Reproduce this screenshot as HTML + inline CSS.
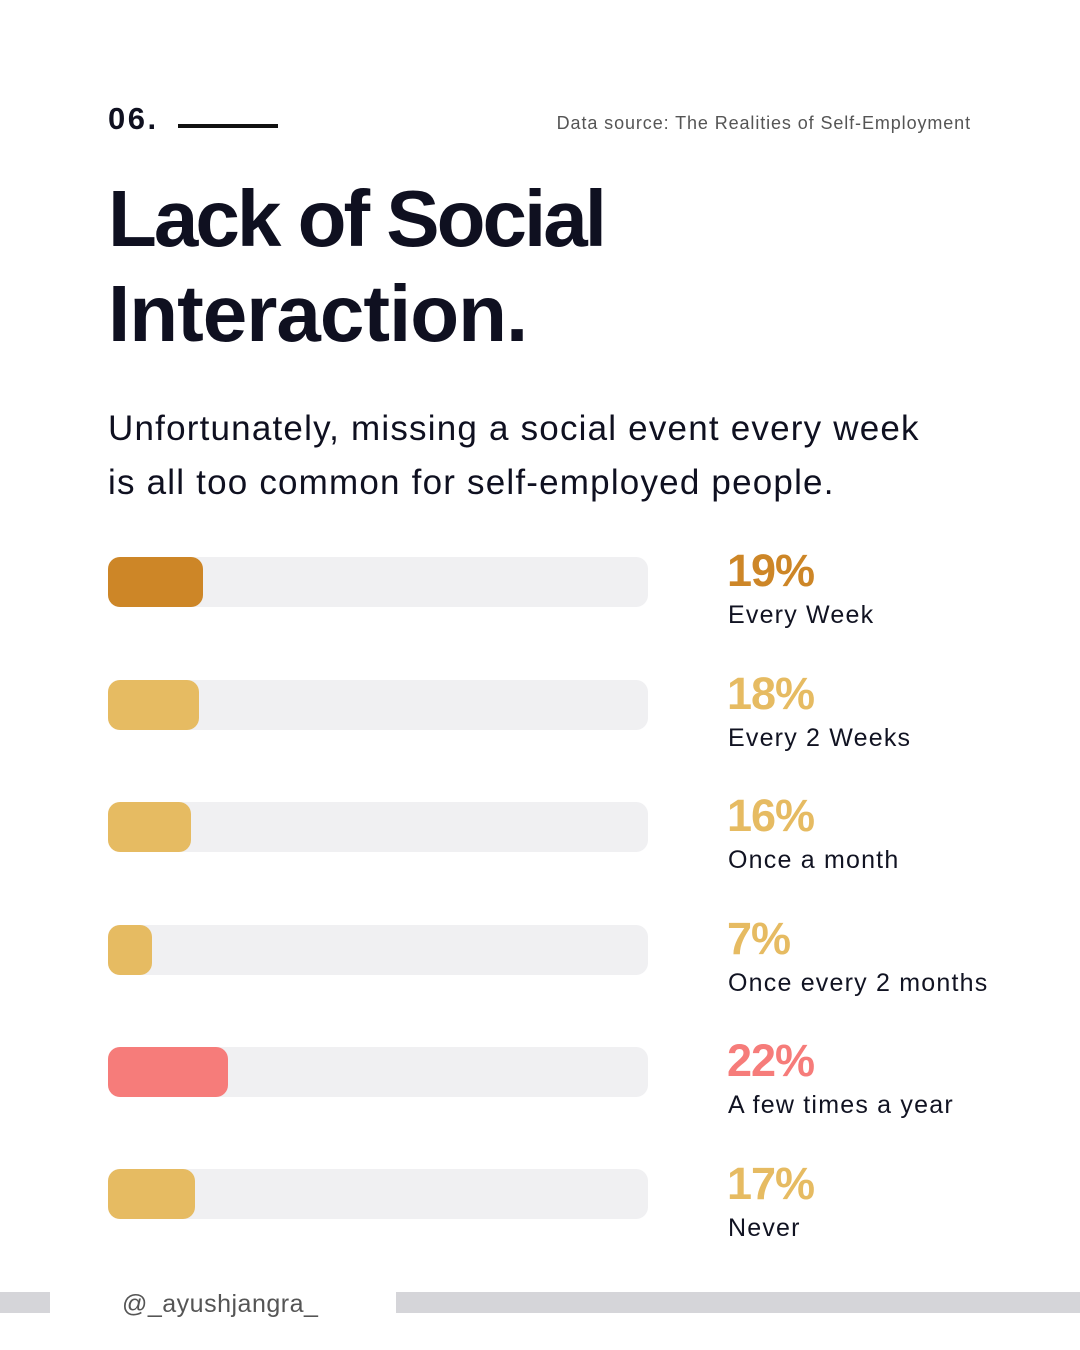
<!DOCTYPE html>
<html><head><meta charset="utf-8"><style>
*{margin:0;padding:0;box-sizing:border-box}
body{width:1080px;height:1350px;background:#fff;position:relative;overflow:hidden;font-family:"Liberation Sans",sans-serif;color:#0f1020}
.t{position:absolute;line-height:1;white-space:nowrap}
.track{position:absolute;left:108px;width:540px;height:50px;background:#f0f0f2;border-radius:12px}
.fill{position:absolute;left:0;top:0;height:50px;border-radius:12px}
.pct{font-weight:bold;font-size:45px;letter-spacing:-1px}
.lab{font-size:25px;letter-spacing:1.2px;color:#111322}
</style></head><body>
<div class="t" style="left:108px;top:103px;font-size:31px;font-weight:bold;letter-spacing:2.5px">06.</div>
<div style="position:absolute;left:178px;top:124px;width:100px;height:4px;background:#111"></div>
<div class="t" style="right:109px;top:114px;font-size:18px;color:#555;letter-spacing:0.9px">Data source: The Realities of Self-Employment</div>
<div class="t" style="left:108px;top:179px;font-size:80px;font-weight:bold;letter-spacing:-3px">Lack of Social</div>
<div class="t" style="left:108px;top:274px;font-size:80px;font-weight:bold;letter-spacing:-1px">Interaction.</div>
<div class="t" style="left:108px;top:411px;font-size:35px;letter-spacing:1.2px">Unfortunately, missing a social event every week</div>
<div class="t" style="left:108px;top:465px;font-size:35px;letter-spacing:1.2px">is all too common for self-employed people.</div>

<div class="track" style="top:557px"><div class="fill" style="width:95px;background:#cd8627"></div></div>
<div class="track" style="top:680px"><div class="fill" style="width:91px;background:#e6bb62"></div></div>
<div class="track" style="top:802px"><div class="fill" style="width:83px;background:#e6bb62"></div></div>
<div class="track" style="top:925px"><div class="fill" style="width:44px;background:#e6bb62"></div></div>
<div class="track" style="top:1047px"><div class="fill" style="width:120px;background:#f67c7a"></div></div>
<div class="track" style="top:1169px"><div class="fill" style="width:87px;background:#e6bb62"></div></div>

<div class="t pct" style="left:727px;top:548px;color:#cd8627">19%</div>
<div class="t lab" style="left:728px;top:603px">Every Week</div>
<div class="t pct" style="left:727px;top:671px;color:#e6bb62">18%</div>
<div class="t lab" style="left:728px;top:726px">Every 2 Weeks</div>
<div class="t pct" style="left:727px;top:793px;color:#e6bb62">16%</div>
<div class="t lab" style="left:728px;top:848px">Once a month</div>
<div class="t pct" style="left:727px;top:916px;color:#e6bb62">7%</div>
<div class="t lab" style="left:728px;top:971px">Once every 2 months</div>
<div class="t pct" style="left:727px;top:1038px;color:#f67c7a">22%</div>
<div class="t lab" style="left:728px;top:1093px">A few times a year</div>
<div class="t pct" style="left:727px;top:1161px;color:#e6bb62">17%</div>
<div class="t lab" style="left:728px;top:1216px">Never</div>

<div style="position:absolute;left:0;top:1292px;width:50px;height:21px;background:#d5d5d9"></div>
<div style="position:absolute;left:396px;top:1292px;width:684px;height:21px;background:#d5d5d9"></div>
<div class="t" style="left:122px;top:1292px;font-size:25px;color:#555;letter-spacing:0.5px">@_ayushjangra_</div>
</body></html>
